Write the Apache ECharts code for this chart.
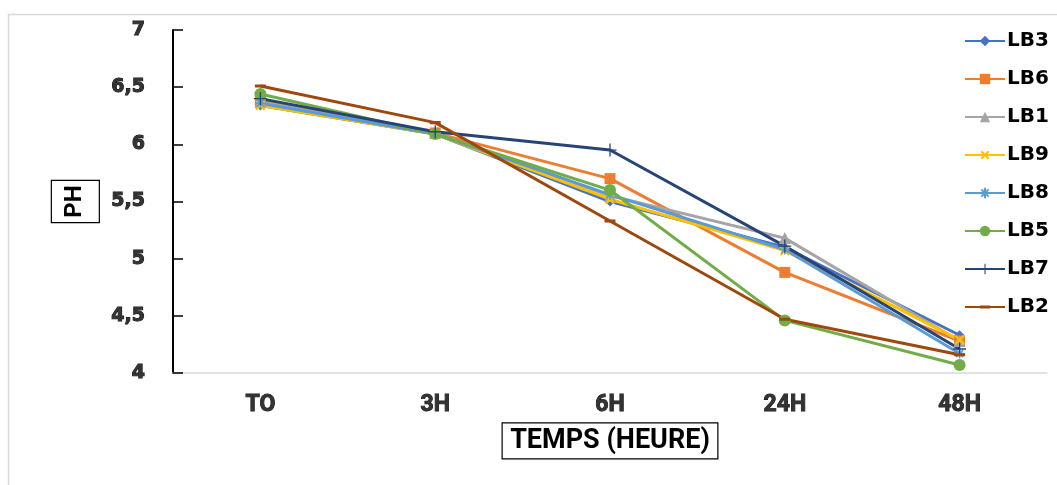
<!DOCTYPE html>
<html>
<head>
<meta charset="utf-8">
<script src="https://cdn.jsdelivr.net/npm/echarts@6/dist/echarts.min.js"></script>
<style>html,body{margin:0;padding:0;background:#fff}#c{width:1057px;height:485px}</style>
</head>
<body>
<div id="c"></div>
<script>
const categories = ['TO', '3H', '6H', '24H', '48H'];
const yTicks = [4, 4.5, 5, 5.5, 6, 6.5, 7];
const seriesNames = ['LB3', 'LB6', 'LB1', 'LB9', 'LB8', 'LB5', 'LB7', 'LB2'];
const LB3 = [6.34, 6.09, 5.50, 5.10, 4.33];
const LB6 = [6.38, 6.10, 5.70, 4.88, 4.28];
const LB1 = [6.37, 6.10, 5.55, 5.18, 4.28];
const LB9 = [6.34, 6.09, 5.52, 5.07, 4.29];
const LB8 = [6.36, 6.09, 5.56, 5.08, 4.17];
const LB5 = [6.44, 6.09, 5.60, 4.46, 4.07];
const LB7 = [6.40, 6.11, 5.95, 5.11, 4.21];
const LB2 = [6.51, 6.19, 5.33, 4.47, 4.16];
const colors = ['#4472C4', '#ED7D31', '#A5A5A5', '#FFC000', '#5B9BD5', '#70AD47', '#264478', '#9E480E'];

const values = [LB3, LB6, LB1, LB9, LB8, LB5, LB7, LB2];
const plusPath = 'path://M4,0H6V4H10V6H6V10H4V6H0V4H4Z';
const thinPlus = 'path://M4.5,0H5.5V4.5H10V5.5H5.5V10H4.5V5.5H0V4.5H4.5Z';
const starPath = 'path://M5,0V10M0,5H10M1.5,1.5L8.5,8.5M8.5,1.5L1.5,8.5';
const dashPath = 'path://M0,3.6H10V6.4H0Z M5,0H5.01V0.01H5Z M5,9.99H5.01V10H5Z';
const symbols = [
  {symbol: 'diamond', size: 10},
  {symbol: 'rect', size: 11},
  {symbol: 'triangle', size: 12},
  {symbol: plusPath, size: 12, rotate: 45},
  {symbol: starPath, size: 10, stroke: true},
  {symbol: 'circle', size: 12},
  {symbol: thinPlus, size: 13},
  {symbol: dashPath, size: 11}
];

const chart = echarts.init(document.getElementById('c'));
const series = seriesNames.map((n, i) => {
  const s = symbols[i];
  return {
    name: n,
    type: 'line',
    data: values[i],
    symbol: s.symbol,
    symbolSize: s.size,
    symbolRotate: s.rotate || 0,
    lineStyle: {color: colors[i], width: 3},
    itemStyle: s.stroke ? {color: colors[i], borderColor: colors[i], borderWidth: 1.6} : {color: colors[i], borderWidth: 0},
    emphasis: {disabled: true},
    animation: false
  };
});

chart.setOption({
  animation: false,
  color: colors,
  graphic: [{
    type: 'rect', shape: {x: 8.5, y: 14.5, width: 1070, height: 490},
    style: {fill: 'none', stroke: '#d9d9d9', lineWidth: 1.5}, silent: true
  }],
  grid: {left: 173, right: 10, top: 30, bottom: 112},
  legend: {
    orient: 'vertical', left: 959, top: 26,
    itemWidth: 40, itemHeight: 13, itemGap: 18,
    textStyle: {fontFamily: 'DejaVu Sans', fontWeight: 'bold', fontSize: 20, color: '#000', lineHeight: 20, padding: [0, 0, 0, -3]},
    data: seriesNames
  },
  xAxis: {
    type: 'category',
    data: categories,
    boundaryGap: true,
    axisLine: {lineStyle: {color: '#d9d9d9', width: 1.5}},
    axisTick: {show: false},
    axisLabel: {margin: 21, fontFamily: 'Roboto', fontWeight: 'bold', fontSize: 23, color: '#333', textBorderColor: '#111', textBorderWidth: 0.9},
    name: 'TEMPS (HEURE)',
    nameLocation: 'middle',
    nameGap: 46,
    nameTextStyle: {fontFamily: 'Roboto', fontWeight: 'bold', fontSize: 27, color: '#000', lineHeight: 30,
      borderColor: '#000', borderWidth: 1.2, padding: [3, 8, 3, 8]}
  },
  yAxis: {
    type: 'value',
    min: yTicks[0], max: yTicks[yTicks.length - 1], interval: 0.5,
    splitLine: {show: false},
    axisLine: {show: true, lineStyle: {color: '#000', width: 2}},
    axisTick: {show: true, inside: true, length: 10, lineStyle: {color: '#000', width: 1.5}},
    axisLabel: {margin: 28, fontFamily: 'DejaVu Sans', fontWeight: 'bold', fontSize: 19, color: '#333',
      textBorderColor: '#111', textBorderWidth: 1,
      formatter: v => String(v).replace('.', ',')},
    name: 'PH',
    nameLocation: 'middle',
    nameRotate: 90,
    nameGap: 70,
    nameTextStyle: {fontFamily: 'Roboto', fontWeight: 'bold', fontSize: 24, color: '#000', lineHeight: 26,
      borderColor: '#000', borderWidth: 1.2, padding: [11, 5, 11, 5]}
  },
  series: series
});
</script>
</body>
</html>
